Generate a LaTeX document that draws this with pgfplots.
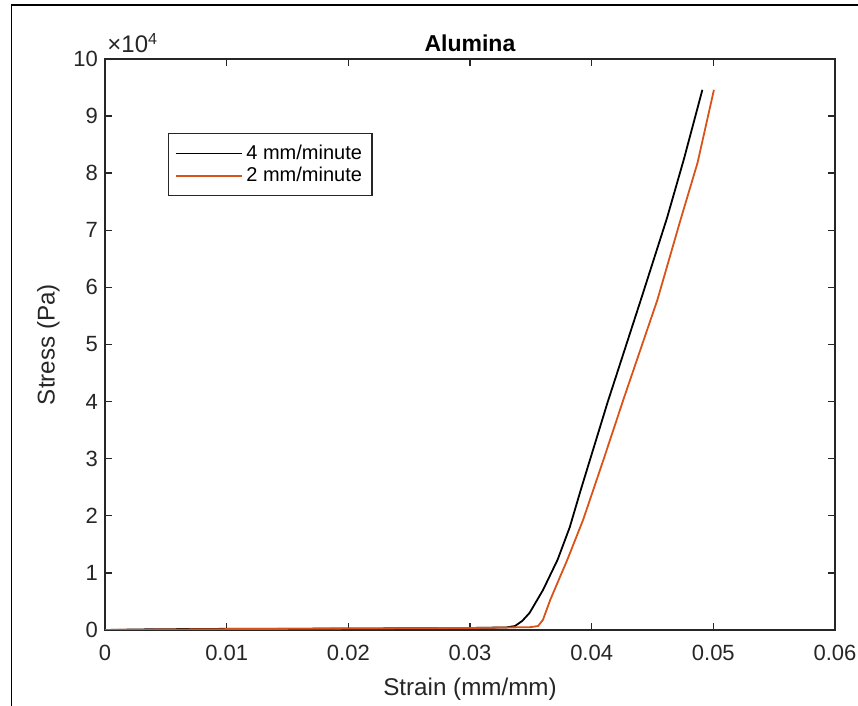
\documentclass[border=0pt]{standalone}
\usepackage{fontspec}
\setmainfont{Liberation Sans}
\usepackage{pgfplots}
\pgfplotsset{compat=1.18}
\definecolor{mlorange}{rgb}{0.85,0.325,0.098}
\definecolor{axgray}{rgb}{0.15,0.15,0.15}

\begin{document}
\begin{tikzpicture}
% outer frame (left and top edges visible)
\useasboundingbox (0,0) rectangle (429pt,353pt);
\draw[line width=0.8pt] (5.8pt,0) -- (5.8pt,350.5pt) -- (429pt,350.5pt);
\begin{axis}[
  name=ax,
  at={(52.5pt,38pt)}, anchor=south west,
  scale only axis,
  width=365pt, height=285.5pt,
  xmin=0, xmax=0.06, ymin=0, ymax=100000,
  xtick={0,0.01,...,0.06},
  ytick={0,10000,...,100000},
  yticklabels={0,1,2,3,4,5,6,7,8,9,10},
  scaled x ticks=false, scaled y ticks=false,
  xticklabel style={/pgf/number format/fixed, /pgf/number format/precision=2, yshift=-4pt},
  /pgf/number format/assume math mode=true,
  tick label style={font=\fontsize{11}{13}\selectfont, text=axgray},
  tick align=inside,
  major tick length=3.5pt,
  axis line style={axgray, line width=0.7pt},
  every tick/.style={axgray, line width=0.7pt},
  xlabel={Strain (mm/mm)}, ylabel={Stress (Pa)},
  label style={font=\fontsize{12.1}{14}\selectfont, text=axgray},
  xlabel style={yshift=-2pt},
  title={\textbf{Alumina}},
  title style={font=\fontsize{11.5}{13}\selectfont, yshift=-6pt},
  legend style={at={(0.0863,0.870)}, anchor=north west, draw=axgray, line width=0.6pt,
    font=\fontsize{10}{12}\selectfont, inner xsep=3pt, inner ysep=3.5pt, row sep=-1.5pt},
  legend cell align=left,
  legend image code/.code={\draw[#1, line width=0.9pt] (0pt,0pt) -- (33pt,0pt);},
  every axis plot/.append style={line width=0.9pt},
]
\addplot[black] coordinates {
  (0,0)(0.003,100)(0.006,150)(0.01,200)(0.02,250)(0.03,350)(0.0330,450)
  (0.0337,700)(0.0343,1600)(0.0349,3000)(0.0360,7000)(0.0372,12300)
  (0.0382,18000)(0.0391,24500)(0.0413,39800)(0.0441,58200)(0.0462,72200)
  (0.0476,82600)(0.0491,94600)
};
\addlegendentry{4 mm/minute}
\addplot[mlorange] coordinates {
  (0,0)(0.01,150)(0.02,250)(0.03,350)(0.0350,500)(0.0356,700)(0.0360,1800)
  (0.0366,5300)(0.0380,12300)(0.0393,19300)(0.0410,30000)(0.0426,40300)
  (0.0454,57800)(0.0473,71800)(0.0487,81800)(0.05005,94600)
};
\addlegendentry{2 mm/minute}
\end{axis}
\node[anchor=base west, inner sep=0pt, xshift=1pt, yshift=3pt, font=\fontsize{12}{14}\selectfont, text=axgray]
  at (ax.north west) {×10\textsuperscript{4}};
\end{tikzpicture}
\end{document}
